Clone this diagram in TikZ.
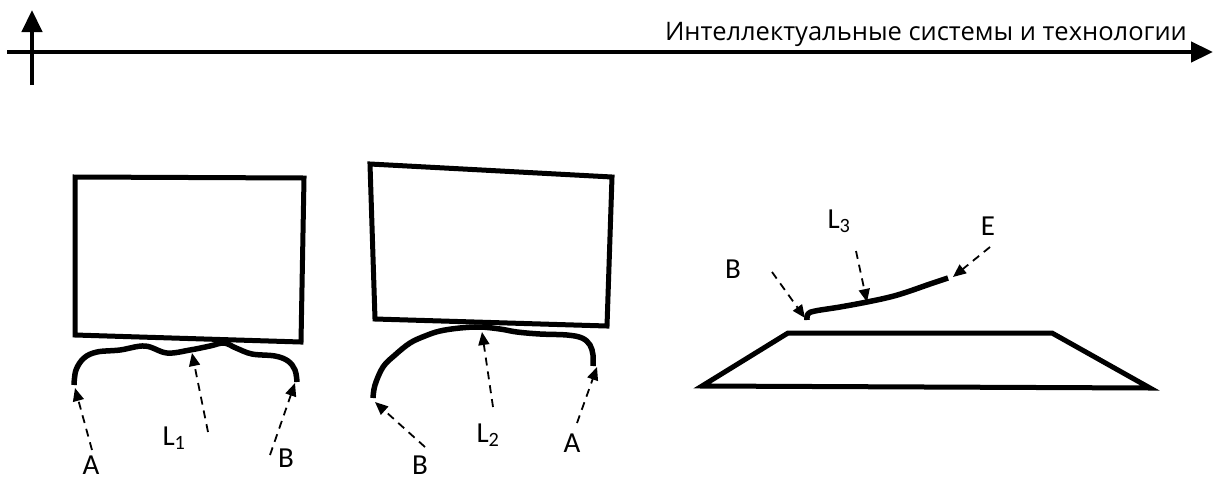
\documentclass[tikz,border=0pt]{standalone}
\usepackage{fontspec}
\setmainfont{Carlito}
\newfontfamily\titlefont{Open Sans}
\usetikzlibrary{arrows.meta}
\tikzset{
  axisline/.style={line width=4.5pt, -{Triangle[length=22pt,width=20pt]}},
  outline/.style={line width=5pt, line join=miter},
  wire/.style={line width=5.5pt, line join=round},
  pointer/.style={line width=1.8pt, dash pattern=on 8pt off 6pt,
    -{Triangle[length=13pt,width=11pt]}},
  ptlabel/.style={font=\fontsize{29}{33}\selectfont, inner sep=0pt,
    text depth=0pt, anchor=base},
}
\newcommand{\lsub}[1]{L\textsubscript{#1}}

\begin{document}
\begin{tikzpicture}[x=1pt, y=-1pt]
  \useasboundingbox (0,0) rectangle (1215,480);

  % Axes
  \coordinate (hstart) at (7,52);
  \coordinate (hend) at (1213,52);
  \coordinate (vstart) at (32,85);
  \coordinate (vend) at (32,10);
  \draw[axisline] (hstart) -- (hend);
  \draw[axisline] (vstart) -- (vend);
  \node[anchor=base east, inner sep=0pt, font=\titlefont\fontsize{25.5}{29}\selectfont]
    (title) at (1187,40) {Интеллектуальные системы и технологии};

  % Boxes
  \draw[outline] (75,177) -- (304,178) -- (301,342) -- (75,335) -- cycle;
  \draw[outline] (370,164) -- (612,177) -- (607,326) -- (375,319) -- cycle;

  % Plate
  \draw[outline] (702,386) -- (788,333) -- (1052,333) -- (1150,388) -- cycle;

  % Wires
  \draw[wire] plot[smooth, tension=0.6] coordinates {(74,385) (76,370) (84,358)
    (97,352) (120,350) (145,346) (167,353) (190,350) (210,346) (224,343)
    (236,348) (252,354) (275,356) (288,361) (295,370) (297,382)};
  \coordinate (a1end) at (75,388);
  \coordinate (l1mid) at (192,353);
  \coordinate (b1end) at (295,383);

  \draw[wire] plot[smooth, tension=0.6] coordinates {(373,398) (375,385)
    (383,367) (395,355) (410,343) (425,336) (440,331) (460,328) (480,327)
    (500,329) (517,332) (540,334) (567,335) (582,338) (590,345) (593,355)
    (593,366)};
  \coordinate (b2end) at (375,402);
  \coordinate (l2mid) at (482,332);
  \coordinate (a2end) at (597,367);

  \draw[wire] plot[smooth, tension=0.6] coordinates {(807,320) (808,314)
    (815,311) (840,307) (867,302) (890,297) (907,292) (930,284) (948,278)};
  \coordinate (b3end) at (805,318);
  \coordinate (l3mid) at (867,302);
  \coordinate (e3end) at (953,277);

  % Labels
  \node[ptlabel] (a1) at (91,474) {A};
  \node[ptlabel] (l1) at (174,445) {\lsub{1}};
  \node[ptlabel] (b1) at (286,467) {B};
  \node[ptlabel] (b2) at (420,474) {B};
  \node[ptlabel] (l2) at (488,442) {\lsub{2}};
  \node[ptlabel] (a2) at (572,452) {A};
  \node[ptlabel] (b3) at (733,278) {B};
  \node[ptlabel] (l3) at (839,228) {\lsub{3}};
  \node[ptlabel] (e3) at (988,235) {E};

  % Pointers
  \coordinate (a1tail) at (92,450);
  \coordinate (l1tail) at (208,432);
  \coordinate (b1tail) at (270,455);
  \coordinate (b2tail) at (425,447);
  \coordinate (l2tail) at (493,407);
  \coordinate (a2tail) at (577,423);
  \coordinate (b3tail) at (772,272);
  \coordinate (l3tail) at (856,251);
  \coordinate (e3tail) at (990,247);
  \draw[pointer] (a1tail) -- (a1end);
  \draw[pointer] (l1tail) -- (l1mid);
  \draw[pointer] (b1tail) -- (b1end);
  \draw[pointer] (b2tail) -- (b2end);
  \draw[pointer] (l2tail) -- (l2mid);
  \draw[pointer] (a2tail) -- (a2end);
  \draw[pointer] (b3tail) -- (b3end);
  \draw[pointer] (l3tail) -- (l3mid);
  \draw[pointer] (e3tail) -- (e3end);
\end{tikzpicture}
\end{document}
